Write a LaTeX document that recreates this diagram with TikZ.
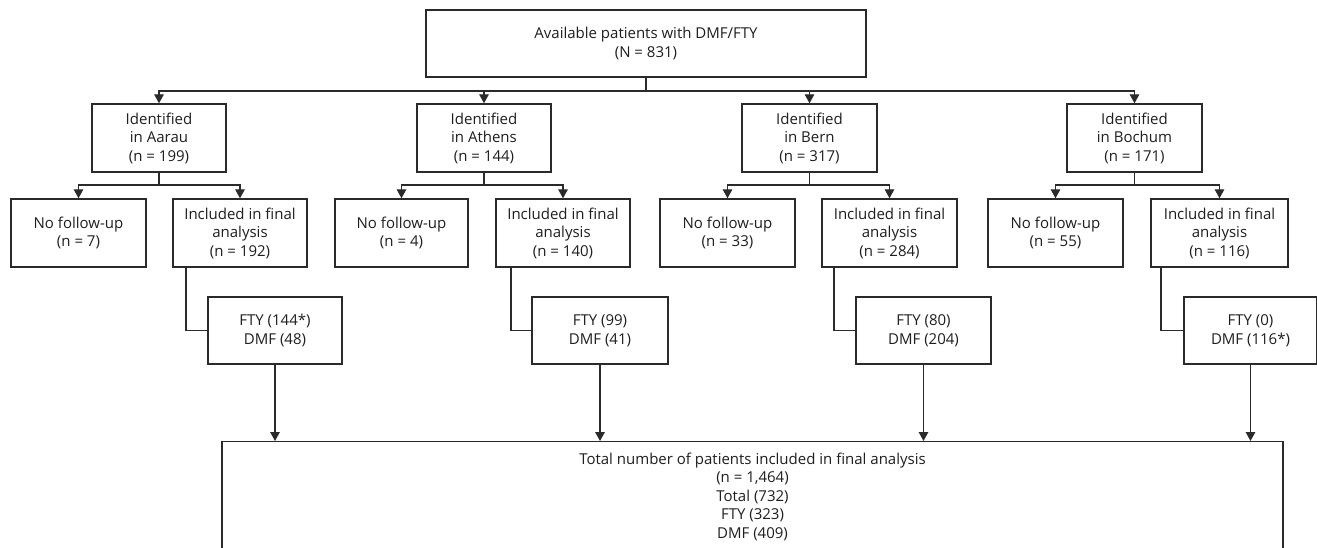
\documentclass[tikz,border=0pt]{standalone}
\usepackage{fontspec}
\setmainfont{Open Sans}
\usetikzlibrary{arrows.meta}
\definecolor{linec}{HTML}{2A2A2A}
\definecolor{textc}{HTML}{1E1E1E}
\begin{document}
\begin{tikzpicture}[x=1pt,y=-1pt,
  box/.style={draw=linec, line width=1.4pt, text=textc, align=center,
    font=\fontsize{15}{18.5}\selectfont, inner sep=0pt, minimum height=68pt},
  conn/.style={draw=linec, line width=1.3pt},
  arr/.style={conn, -{Triangle[length=9pt,width=9.5pt]}},
]
\useasboundingbox (0,0) rectangle (1317,547);

% top
\node[box, minimum width=440pt, minimum height=67pt] (top) at (646,43.5)
  {Available patients with DMF/FTY\\(N = 831)};

% centres
\node[box, minimum width=134pt] (aarau) at (159,138) {Identified\\in Aarau\\(n = 199)};
\node[box, minimum width=134pt] (athens) at (484,138) {Identified\\in Athens\\(n = 144)};
\node[box, minimum width=135pt] (bern) at (809.5,138) {Identified\\in Bern\\(n = 317)};
\node[box, minimum width=135pt] (bochum) at (1134.5,138) {Identified\\in Bochum\\(n = 171)};

% row 3
\node[box, minimum width=135pt] (nfA) at (78.5,233) {No follow-up\\(n = 7)};
\node[box, minimum width=134pt] (inA) at (240,233) {Included in final\\analysis\\(n = 192)};
\node[box, minimum width=133pt] (nfAt) at (401.5,233) {No follow-up\\(n = 4)};
\node[box, minimum width=134pt] (inAt) at (563,233) {Included in final\\analysis\\(n = 140)};
\node[box, minimum width=135pt] (nfB) at (727.5,233) {No follow-up\\(n = 33)};
\node[box, minimum width=135pt] (inB) at (889.5,233) {Included in final\\analysis\\(n = 284)};
\node[box, minimum width=135pt] (nfBo) at (1055.5,233) {No follow-up\\(n = 55)};
\node[box, minimum width=137pt] (inBo) at (1219.5,233) {Included in final\\analysis\\(n = 116)};

% treatment boxes
\node[box, minimum width=134pt, minimum height=67pt] (ftyA) at (275,330.5) {FTY (144*)\\DMF (48)};
\node[box, minimum width=136pt, minimum height=67pt] (ftyAt) at (600,330.5) {FTY (99)\\DMF (41)};
\node[box, minimum width=135pt, minimum height=67pt] (ftyB) at (923.5,330.5) {FTY (80)\\DMF (204)};
\node[box, minimum width=133pt, minimum height=67pt] (ftyBo) at (1250.5,330.5) {FTY (0)\\DMF (116*)};

% total
\node[box, anchor=north, minimum width=1061pt, minimum height=0pt, inner ysep=11pt, text depth=40pt]
  (total) at (752.5,441)
  {Total number of patients included in final analysis\\(n = 1,464)\\Total (732)\\FTY (323)\\DMF (409)};

% connectors from top
\coordinate (t0) at (646,91);
\draw[conn] (top) -- (t0);
\foreach \n in {aarau,athens,bern,bochum} \draw[arr] (t0) -| (\n);

% branches
\coordinate (jA) at (159,185);
\coordinate (jAt) at (484,185);
\coordinate (jB) at (809.5,185);
\coordinate (jBo) at (1134.5,185);
\draw[conn] (aarau) -- (jA);
\draw[conn] (athens) -- (jAt);
\draw[conn] (bern) -- (jB);
\draw[conn] (bochum) -- (jBo);
\draw[arr] (jA) -| (nfA);
\draw[arr] (jA) -| (inA);
\draw[arr] (jAt) -| (nfAt);
\draw[arr] (jAt) -| (inAt);
\draw[arr] (jB) -| (nfB);
\draw[arr] (jB) -| (inB);
\draw[arr] (jBo) -| (nfBo);
\draw[arr] (jBo) -| (inBo);

% elbows to treatment boxes
\coordinate (eA) at (186,330.5);
\coordinate (eAt) at (511,330.5);
\coordinate (eB) at (834,330.5);
\coordinate (eBo) at (1161,330.5);
\draw[conn] (eA |- inA.south) -- (eA) -- (ftyA.west);
\draw[conn] (eAt |- inAt.south) -- (eAt) -- (ftyAt.west);
\draw[conn] (eB |- inB.south) -- (eB) -- (ftyB.west);
\draw[conn] (eBo |- inBo.south) -- (eBo) -- (ftyBo.west);

% to total
\draw[arr] (ftyA) -- (ftyA |- total.north);
\draw[arr] (ftyAt) -- (ftyAt |- total.north);
\draw[arr] (ftyB) -- (ftyB |- total.north);
\draw[arr] (ftyBo) -- (ftyBo |- total.north);
\end{tikzpicture}
\end{document}
